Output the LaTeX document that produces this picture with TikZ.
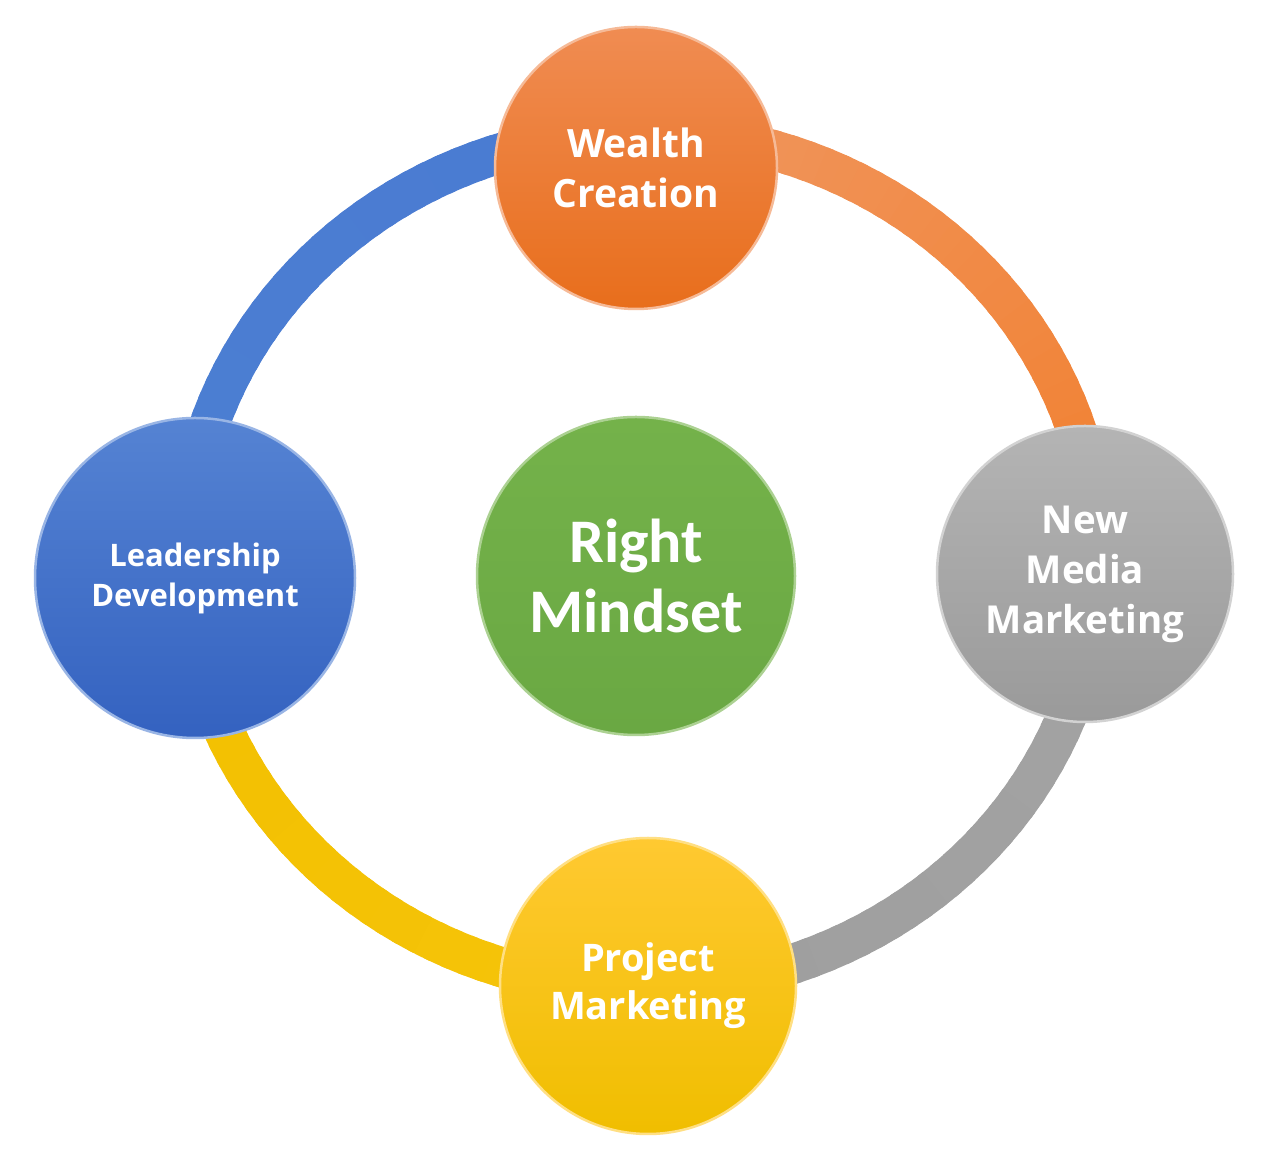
\documentclass[tikz,border=0pt]{standalone}
\usepackage{fontspec}
\setmainfont{Carlito}[Ligatures=NoCommon]
\newfontfamily\outerfont{Open Sans}[Ligatures=NoCommon]
\begin{document}
\begin{tikzpicture}[x=1pt,y=1pt,
  ringseg/.style={line width=40pt, line cap=butt},
  bubble/.style={circle, inner sep=0pt, text=white, align=center, line width=2.5pt},
]
\definecolor{orA}{HTML}{F0955C}
\definecolor{orB}{HTML}{F27E2C}
\definecolor{blA}{HTML}{4A7BD2}
\definecolor{blB}{HTML}{4C7FD2}
\definecolor{grA}{HTML}{A3A3A3}
\definecolor{grB}{HTML}{9E9E9E}
\definecolor{yeA}{HTML}{F6C40A}
\definecolor{yeB}{HTML}{F2C000}
\definecolor{orTop}{HTML}{F08C52}
\definecolor{orBot}{HTML}{E86E1C}
\definecolor{blTop}{HTML}{5583D3}
\definecolor{blBot}{HTML}{3462C0}
\definecolor{grTop}{HTML}{B4B4B4}
\definecolor{grBot}{HTML}{9A9A9A}
\definecolor{gnTop}{HTML}{74B24A}
\definecolor{gnBot}{HTML}{6AA843}
\definecolor{yeTop}{HTML}{FFC931}
\definecolor{yeBot}{HTML}{F0BE00}
\useasboundingbox[fill=white] (0,0) rectangle (1280,1159);
\coordinate (ringc) at (642,599);
% ring made of graded arc pieces
\newcommand\gradarc[4]{%
 \foreach \k in {0,...,39}{%
  \pgfmathsetmacro\aS{#1+(#2-#1)*\k/40}%
  \pgfmathsetmacro\aE{#1+(#2-#1)*(\k+1.4)/40}%
  \pgfmathtruncatemacro\pc{100*\k/39}%
  \draw[ringseg, draw={#4!\pc!#3}] (ringc) ++(\aS:456 and 428)
     arc[start angle=\aS, end angle=\aE, x radius=456, y radius=428];
 }}
\gradarc{95}{185}{blA}{blB}
\gradarc{85}{-5}{orA}{orB}
\gradarc{355}{265}{grA}{grB}
\gradarc{275}{185}{yeA}{yeB}
% circles
\node[bubble, minimum size=282pt, top color=orTop, bottom color=orBot, draw=orTop!60!white,
  font=\outerfont\fontsize{39}{50}\selectfont\bfseries] (wealth) at (636,991) {Wealth\\Creation};
\node[bubble, minimum size=296pt, top color=grTop, bottom color=grBot, draw=grTop!60!white,
  font=\outerfont\fontsize{38.5}{50}\selectfont\bfseries] (media) at (1085,585) {New\\Media\\Marketing};
\node[bubble, minimum size=296pt, top color=yeTop, bottom color=yeBot, draw=yeTop!60!white,
  font=\outerfont\fontsize{38}{48}\selectfont\bfseries] (project) at (648,173) {Project\\Marketing};
\node[bubble, minimum size=320pt, top color=blTop, bottom color=blBot, draw=blTop!60!white,
  font=\outerfont\fontsize{31}{40}\selectfont\bfseries] (leader) at (195,581) {Leadership\\Development};
\node[bubble, minimum size=318pt, top color=gnTop, bottom color=gnBot, draw=gnTop!60!white,
  font=\fontsize{62}{70}\selectfont\bfseries] (mind) at (636,583) {Right\\Mindset};
\end{tikzpicture}
\end{document}
